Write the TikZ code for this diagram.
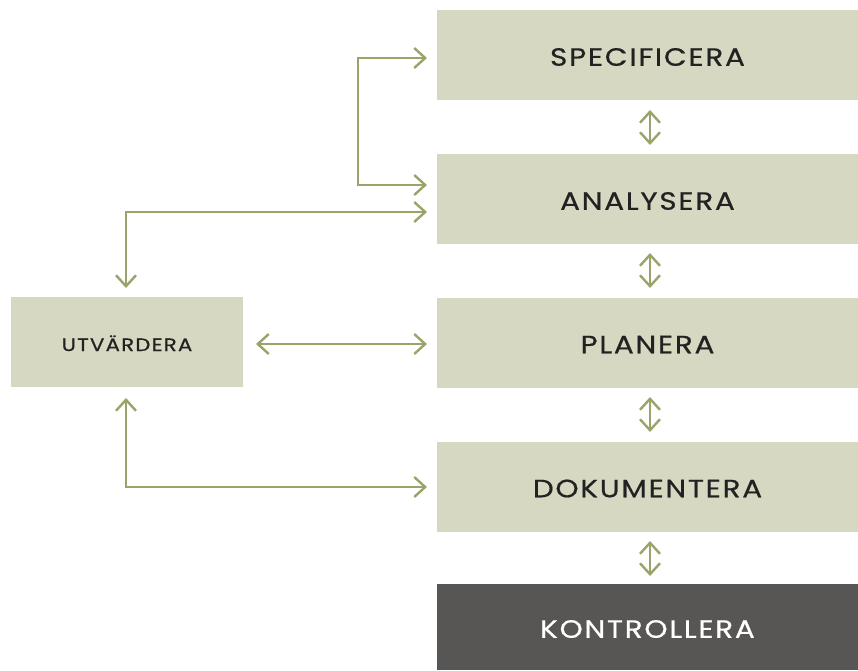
\documentclass[tikz,border=0pt]{standalone}
\usepackage{fontspec}
\setmainfont{Poppins}[LetterSpace=7,FakeStretch=1.18,FakeBold=0.6]
\usetikzlibrary{arrows.meta}
\definecolor{boxfill}{HTML}{D6D8C2}
\definecolor{darkfill}{HTML}{575654}
\definecolor{arrowc}{HTML}{9AA36A}
\definecolor{textc}{HTML}{222222}
\begin{document}
\begin{tikzpicture}[x=1pt,y=-1pt,
  stage/.style={fill=boxfill,draw=none,minimum width=421pt,minimum height=90pt,inner sep=0pt,font=\fontsize{25}{27}\selectfont,text=textc,text height=21.5pt,text depth=0pt},
  darkstage/.style={stage,fill=darkfill,text=white},
  conn/.style={draw=arrowc,line width=2.4pt,arrows={Straight Barb[length=11pt,width=20pt,line width=2.4pt]-Straight Barb[length=11pt,width=20pt,line width=2.4pt]}},
  oneway/.style={draw=arrowc,line width=2.4pt,arrows={-Straight Barb[length=11pt,width=20pt,line width=2.4pt]}}]
\useasboundingbox (0,0) rectangle (858,670);
\node[stage] (spec) at (647.5,55) {SPECIFICERA};
\node[stage] (anal) at (647.5,199) {ANALYSERA};
\node[stage] (plan) at (647.5,342.5) {PLANERA};
\node[stage] (dok) at (647.5,486.5) {DOKUMENTERA};
\node[darkstage,minimum height=86pt] (kon) at (647.5,627) {KONTROLLERA};
\node[stage,minimum width=232pt,minimum height=90pt,font=\fontsize{18}{20}\selectfont,text height=18pt] (utv) at (127,342) {UTVÄRDERA};
% end points of the connectors
\coordinate (s1) at (650,110); \coordinate (a1) at (650,145);
\coordinate (a2) at (650,253); \coordinate (p1) at (650,288);
\coordinate (p2) at (650,397); \coordinate (d1) at (650,432);
\coordinate (d2) at (650,541); \coordinate (k1) at (650,576);
\coordinate (sA) at (427,58);
\coordinate (aA) at (427,185);
\coordinate (aB) at (427,212);
\coordinate (uT) at (126,288);
\coordinate (uR) at (256,344);
\coordinate (pL) at (427,344);
\coordinate (uB) at (126,398);
\coordinate (dA) at (427,487);
\coordinate (loop) at (358,120);
% vertical connectors
\draw[conn] (s1) -- (a1);
\draw[conn] (a2) -- (p1);
\draw[conn] (p2) -- (d1);
\draw[conn] (d2) -- (k1);
% loop spec-anal
\draw[oneway] (loop) |- (sA);
\draw[oneway] (loop) |- (aA);
% analysera <-> utvardera
\draw[conn] (aB) -| (uT);
% planera <-> utvardera
\draw[conn] (uR) -- (pL);
% dokumentera <-> utvardera
\draw[conn] (uB) |- (dA);
\end{tikzpicture}
\end{document}
